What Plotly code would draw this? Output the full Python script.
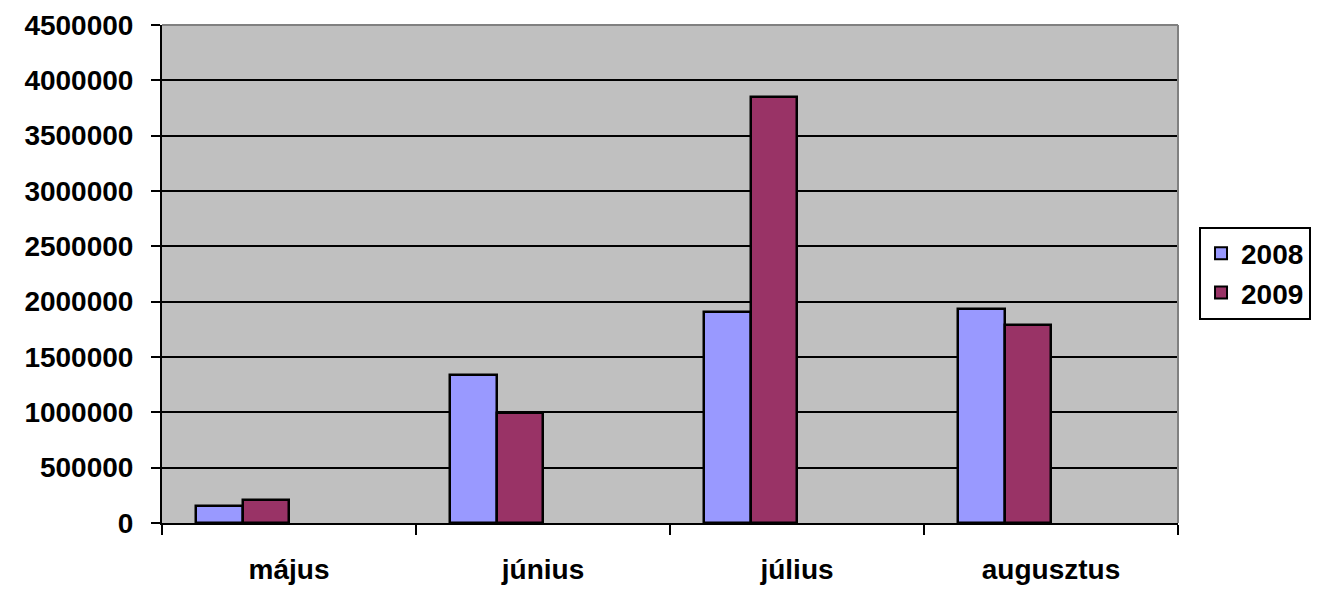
import plotly.graph_objects as go

categories = ["május", "június", "július", "augusztus"]
series_names = ["2008", "2009"]
values_2008 = [152000, 1340000, 1903000, 1935000]
values_2009 = [211000, 990000, 3846000, 1792000]
y_ticks = [0, 500000, 1000000, 1500000, 2000000, 2500000, 3000000, 3500000, 4000000, 4500000]

colors = ["#9999FF", "#993366"]
FONT = "Liberation Sans, Arial, sans-serif"
FS = 28
x_pos = list(range(len(categories)))

fig = go.Figure()
for name, vals, col, off in zip(series_names, [values_2008, values_2009], colors, [-0.366, -0.183]):
    fig.add_trace(go.Bar(
        x=x_pos, y=vals, name=name,
        marker=dict(color=col, line=dict(color="black", width=2.5)),
        width=0.183, offset=off,
    ))

# page body has an 8px margin, so the figure is sized/placed to compensate
fig.update_layout(
    width=1323, height=581,
    margin=dict(l=154, r=153, t=17, b=66, autoexpand=False),
    paper_bgcolor="white", plot_bgcolor="#C0C0C0",
    font=dict(family=FONT, size=FS, color="black"),
    showlegend=True,
    legend=dict(
        x=1.0207, y=0.502, xanchor="left", yanchor="middle",
        bgcolor="white", bordercolor="black", borderwidth=2,
        font=dict(family=FONT, size=FS, color="black", weight="bold"),
        itemsizing="constant", tracegroupgap=4, itemwidth=30,
    ),
    bargap=0,
)
fig.update_xaxes(
    range=[-0.5, len(categories) - 0.5], automargin=False,
    tickmode="array", tickvals=x_pos, ticktext=categories,
    ticks="", showgrid=False, zeroline=False,
    showline=True, linecolor="black", linewidth=2,
    tickfont=dict(family=FONT, size=FS, color="black", weight="bold"),
    ticklabelstandoff=20,
    minor=dict(tickmode="array", tickvals=[i - 0.5 for i in range(len(categories) + 1)],
               ticks="outside", ticklen=10, tickwidth=2, tickcolor="black", showgrid=False),
)
fig.update_yaxes(
    range=[0, 4500000], automargin=False,
    tickmode="array", tickvals=y_ticks, ticktext=[str(v) for v in y_ticks],
    ticks="outside", ticklen=9, tickwidth=2, tickcolor="black",
    showgrid=True, gridcolor="black", gridwidth=2,
    zeroline=False, showline=True, linecolor="black", linewidth=2,
    tickfont=dict(family=FONT, size=FS, color="black", weight="bold"),
    ticklabelstandoff=12,
)
# gray border on top and right of the plot area
fig.add_shape(type="line", xref="paper", yref="paper", x0=0, x1=1, y0=1, y1=1,
              line=dict(color="#808080", width=2), layer="above")
fig.add_shape(type="line", xref="paper", yref="paper", x0=1, x1=1, y0=0, y1=1,
              line=dict(color="#808080", width=2), layer="above")

fig.write_html("out.html")
